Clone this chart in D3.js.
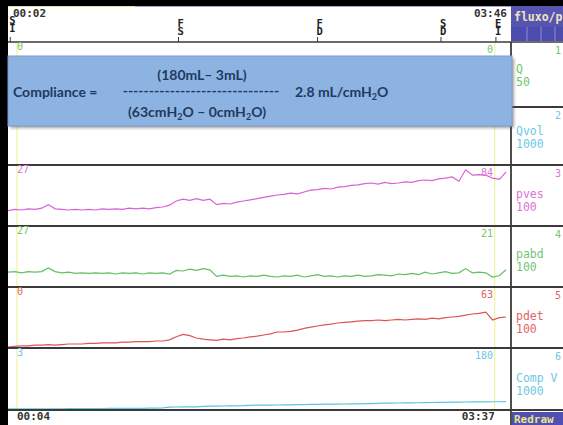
<!DOCTYPE html>
<html lang="en">
<head>
<meta charset="UTF-8">
<title>Compliance</title>
<script src="https://cdn.jsdelivr.net/npm/d3@7/dist/d3.min.js"></script>
<style>
  html, body { margin: 0; padding: 0; background: #fff; }
  svg { display: block; }
  .mono { font-family: "DejaVu Sans Mono", monospace; }
  .note { font-family: Lato, "Open Sans", sans-serif; font-weight: bold; fill: #1f3a5f; }
</style>
</head>
<body>
<svg width="563" height="425"></svg>
<script>
  // channel labels (right panel) and full scale
  const channelNames = ["Q", "Qvol", "pves", "pabd", "pdet", "Comp V"];
  const channelScales = [50, 1000, 100, 100, 100, 1000];
  const channelNumbers = ["1", "2", "3", "4", "5", "6"];
  const startLabels = ["0", "", "27", "27", "0", "3"];
  const endLabels = ["0", "", "84", "21", "63", "180"];

  // events on the top strip (seconds)
  const eventCodes = ["SI", "FS", "FD", "SD", "EI"];
  const eventTimes = [1, 76, 138, 193, 217.5];
  const headerTimes = [2, 226];
  const cursorTimes = [4, 217];

  // one sample every 3 s
  const sampleTimes = d3.range(0, 225, 3);

  const pvesValues = [
    24, 26, 25, 27, 26, 28, 34, 27, 26, 25,
    26, 25, 26, 25, 27, 26, 27, 26, 28, 27,
    28, 27, 29, 30, 33, 40, 43, 41, 44, 41,
    43, 34, 36, 35, 38, 40, 42, 44, 46, 48,
    50, 51, 53, 52, 55, 58, 59, 61, 60, 63,
    64, 66, 67, 69, 70, 68, 71, 69, 70, 72,
    71, 74, 75, 74, 77, 78, 80, 73, 92, 83,
    84, 83, 78, 76, 88
  ];
  const pabdValues = [
    23, 24, 22, 24, 23, 24, 30, 24, 22, 23,
    21, 22, 21, 22, 21, 22, 20, 22, 21, 22,
    20, 22, 21, 22, 20, 26, 25, 28, 26, 29,
    27, 16, 18, 16, 17, 15, 17, 16, 18, 16,
    15, 17, 16, 18, 15, 17, 19, 16, 17, 15,
    17, 16, 18, 16, 17, 19, 18, 17, 20, 19,
    21, 19, 23, 20, 22, 24, 21, 22, 29, 22,
    23, 22, 15, 17, 27
  ];
  const pdetValues = [
    0, 1, 2, 2, 3, 3, 4, 3, 4, 5,
    5, 5, 6, 6, 7, 7, 7, 8, 8, 9,
    9, 9, 10, 10, 12, 17, 21, 19, 15, 13,
    12, 11, 13, 12, 14, 15, 17, 18, 20, 22,
    25, 25, 26, 28, 31, 33, 35, 37, 38, 40,
    41, 42, 43, 44, 44, 45, 44, 45, 46, 45,
    46, 47, 46, 48, 47, 49, 50, 51, 53, 55,
    56, 58, 45, 49, 50
  ];
  const compVValues = [
    3, 3, 3, 3, 3, 3, 3, 3, 3, 5,
    6, 6, 7, 8, 8, 9, 10, 10, 11, 12,
    12, 13, 14, 20, 30, 33, 34, 35, 36, 45,
    48, 49, 50, 51, 52, 55, 62, 64, 65, 66,
    67, 68, 70, 72, 74, 76, 78, 80, 81, 82,
    83, 84, 86, 88, 90, 95, 98, 99, 100, 101,
    103, 104, 106, 108, 110, 111, 113, 115, 117, 118,
    119, 120, 121, 121, 122
  ];

  const svg = d3.select("svg");
  const W = 563, H = 425;
  const plotLeft = 8, plotRight = 511;
  const rowEdges = [42, 107, 165, 226, 287, 348, 410];
  const nameOffsets = [31, 28, 33, 32, 33, 34];
  const lineColor = "#3a3a3a";

  const x = d3.scaleLinear().domain([2, 226]).range([12.5, 515]);
  const fmtTime = s => d3.format("02d")(Math.floor(s / 60)) + ":" + d3.format("02d")(Math.round(s % 60));

  svg.append("rect").attr("width", W).attr("height", H).attr("fill", "#fff");

  svg.append("clipPath").attr("id", "plotClip")
    .append("rect").attr("x", plotLeft).attr("y", 42).attr("width", plotRight - plotLeft).attr("height", 368);

  // cursors
  cursorTimes.forEach(t => {
    svg.append("line")
      .attr("x1", x(t)).attr("x2", x(t)).attr("y1", 43).attr("y2", 410)
      .attr("stroke", "#eeee90").attr("stroke-width", 1);
  });

  // traces
  const traces = [
    { row: 2, values: pvesValues, color: "#d862d4" },
    { row: 3, values: pabdValues, color: "#62c062" },
    { row: 4, values: pdetValues, color: "#dc5454" },
    { row: 5, values: compVValues, color: "#5ec4df" }
  ];
  const traceG = svg.append("g").attr("clip-path", "url(#plotClip)");
  traces.forEach(tr => {
    const bottom = rowEdges[tr.row + 1];
    const y = d3.scaleLinear().domain([0, channelScales[tr.row]]).range([bottom - 1, bottom - 61]);
    const line = d3.line().x((d, i) => x(sampleTimes[i])).y(d => y(d));
    traceG.append("path").datum(tr.values)
      .attr("d", line).attr("fill", "none")
      .attr("stroke", tr.color).attr("stroke-width", 1.2);
  });

  // channel dividers
  rowEdges.forEach((yy, i) => {
    svg.append("line").attr("x1", plotLeft).attr("x2", W).attr("y1", yy).attr("y2", yy)
      .attr("stroke", lineColor).attr("stroke-width", i === 0 ? 1.5 : 1.8);
  });
  svg.append("line").attr("x1", plotRight).attr("x2", plotRight).attr("y1", 42).attr("y2", H)
    .attr("stroke", lineColor).attr("stroke-width", 1.8);

  // start / end values on each channel
  const traceColors = ["#6cc86c", "#6cc8e4", "#d874d4", "#74c474", "#e06464", "#6cc8e4"];
  rowEdges.slice(0, 6).forEach((top, i) => {
    svg.append("text").attr("class", "mono").attr("x", 17).attr("y", top + 8)
      .attr("font-size", 10).attr("fill", traceColors[i]).text(startLabels[i]);
    svg.append("text").attr("class", "mono").attr("x", 493).attr("y", top + 11)
      .attr("text-anchor", "end").attr("font-size", 10).attr("fill", traceColors[i]).text(endLabels[i]);
  });

  // right panel labels
  rowEdges.slice(0, 6).forEach((top, i) => {
    const base = top + nameOffsets[i];
    svg.append("text").attr("class", "mono").attr("x", 516).attr("y", base)
      .attr("font-size", 11.5).attr("fill", traceColors[i]).text(channelNames[i]);
    svg.append("text").attr("class", "mono").attr("x", 516).attr("y", base + 13)
      .attr("font-size", 11.5).attr("fill", traceColors[i]).text(channelScales[i]);
    svg.append("text").attr("class", "mono").attr("x", 555).attr("y", top + 12)
      .attr("font-size", 10).attr("fill", traceColors[i]).text(channelNumbers[i]);
  });

  // frame: black border top and left
  svg.append("rect").attr("x", 0).attr("y", 0).attr("width", W).attr("height", 6).attr("fill", "#000");
  svg.append("rect").attr("x", 0).attr("y", 0).attr("width", plotLeft).attr("height", H).attr("fill", "#000");
  svg.append("line").attr("x1", plotLeft).attr("x2", 135).attr("y1", 6.5).attr("y2", 6.5)
    .attr("stroke", "#e8e49a").attr("stroke-width", 1);
  svg.append("line").attr("x1", 135).attr("x2", plotRight).attr("y1", 6.5).attr("y2", 6.5)
    .attr("stroke", "#aaa2e0").attr("stroke-width", 1);

  // header times
  svg.append("text").attr("class", "mono").attr("x", 13).attr("y", 17)
    .attr("font-size", 11).attr("font-weight", "bold").attr("fill", "#333").text(fmtTime(headerTimes[0]));
  svg.append("text").attr("class", "mono").attr("x", 507).attr("y", 17).attr("text-anchor", "end")
    .attr("font-size", 11).attr("font-weight", "bold").attr("fill", "#333").text(fmtTime(headerTimes[1]));

  // event marks: two stacked letters above a small tick
  eventCodes.forEach((code, i) => {
    const ex = x(eventTimes[i]);
    const shift = i === 0 ? -3 : 0;
    svg.append("line").attr("x1", ex).attr("x2", ex).attr("y1", 37).attr("y2", 42)
      .attr("stroke", lineColor).attr("stroke-width", 1);
    const t = svg.append("text").attr("class", "mono").attr("y", 27 + shift)
      .attr("font-size", 10.5).attr("font-weight", "bold").attr("fill", "#222");
    code.split("").forEach((ch, j) => {
      t.append("tspan").attr("x", ex - 1).attr("dy", j === 0 ? 0 : 8).text(ch);
    });
  });

  // bottom cursor times
  svg.append("text").attr("class", "mono").attr("x", x(cursorTimes[0])).attr("y", 420)
    .attr("font-size", 11).attr("font-weight", "bold").attr("fill", "#333").text(fmtTime(cursorTimes[0]));
  svg.append("text").attr("class", "mono").attr("x", x(cursorTimes[1])).attr("y", 420).attr("text-anchor", "end")
    .attr("font-size", 11).attr("font-weight", "bold").attr("fill", "#333").text(fmtTime(cursorTimes[1]));

  // right panel header
  svg.append("rect").attr("x", plotRight).attr("y", 6).attr("width", W - plotRight).attr("height", 21).attr("fill", "#5656b2");
  svg.append("text").attr("class", "mono").attr("x", 514).attr("y", 21)
    .attr("font-size", 11.5).attr("font-weight", "bold").attr("fill", "#f2e4b8").text("fluxo/p");
  svg.append("rect").attr("x", plotRight).attr("y", 27).attr("width", W - plotRight).attr("height", 14).attr("fill", "#4c4cae");
  [527, 541, 555].forEach(cx => {
    svg.append("line").attr("x1", cx).attr("x2", cx).attr("y1", 27).attr("y2", 41)
      .attr("stroke", "#8f8fd4").attr("stroke-width", 1);
  });
  svg.append("rect").attr("x", plotRight + 1).attr("y", 412).attr("width", W - plotRight).attr("height", 13).attr("fill", "#4f4fb4");
  svg.append("text").attr("class", "mono").attr("x", 514).attr("y", 423)
    .attr("font-size", 11).attr("font-weight", "bold").attr("fill", "#ece28a").text("Redraw");

  // annotation box
  const defs = svg.append("defs");
  defs.append("filter").attr("id", "blur").append("feGaussianBlur").attr("stdDeviation", 1.5);
  svg.append("rect").attr("x", plotLeft + 2).attr("y", 58).attr("width", 504).attr("height", 70)
    .attr("fill", "#555").attr("opacity", 0.55).attr("filter", "url(#blur)");
  svg.append("rect").attr("x", plotLeft).attr("y", 56).attr("width", 504).attr("height", 70)
    .attr("fill", "#8db3e2").attr("stroke", "#7b9ccb").attr("stroke-width", 1);

  function rich(xx, yy, str, anchor) {
    const t = svg.append("text").attr("class", "note").attr("x", xx).attr("y", yy)
      .attr("font-size", 14).attr("text-anchor", anchor || "start");
    str.split(/_(\d)/).forEach((part, k) => {
      if (k % 2 === 1) {
        t.append("tspan").attr("font-size", 9).attr("dy", 3).text(part);
      } else if (part) {
        t.append("tspan").attr("dy", k > 0 ? -3 : 0).text(part);
      }
    });
    return t;
  }
  rich(13, 97, "Compliance =");
  rich(202, 80, "(180mL\u2013 3mL)", "middle");
  rich(201, 96, "------------------------------", "middle");
  rich(128, 117, "(63cmH_2O \u2013 0cmH_2O)");
  rich(295, 97, "2.8 mL/cmH_2O");
</script>
</body>
</html>
